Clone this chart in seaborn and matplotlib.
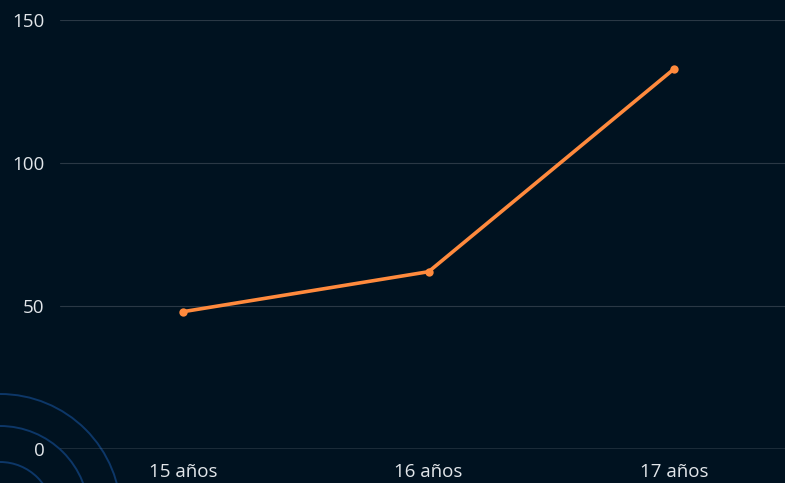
import numpy as np
import pandas as pd
import matplotlib
matplotlib.use("Agg")
import matplotlib.pyplot as plt
import seaborn as sns
from matplotlib.patches import Circle

# Data
ages = ["15 años", "16 años", "17 años"]
values = [48, 62, 133]
y_ticks = [0, 50, 100, 150]

bg_color = "#001220"
line_color = "#FF8A3D"
grid_color = "#2a3845"
text_color = "#e2e6ea"

sns.set_theme(style="dark")
plt.rcParams["font.family"] = ["Open Sans", "DejaVu Sans"]

df = pd.DataFrame({"age": ages, "value": values})

fig = plt.figure(figsize=(7.85, 4.83), dpi=100)
fig.patch.set_facecolor(bg_color)

# decorative rings in the lower left corner (pixel coordinates)
ax_bg = fig.add_axes([0, 0, 1, 1], zorder=0)
ax_bg.set_xlim(0, 785)
ax_bg.set_ylim(483, 0)
ax_bg.axis("off")
ax_bg.set_facecolor(bg_color)
for r in [53, 89, 121]:
    ax_bg.add_patch(Circle((0, 515), r, fill=False, edgecolor="#0d3768", lw=1.4))

ax = fig.add_axes([60 / 785, 34 / 483, 725 / 785, 429 / 483], zorder=1)
ax.set_facecolor("none")

sns.lineplot(data=df, x="age", y="value", ax=ax, color=line_color, lw=2.6,
             marker="o", markersize=6, markeredgewidth=0, sort=False)

ax.set_ylim(0, 150)
ax.set_xlim(-0.5, 2.45)
ax.set_yticks(y_ticks)
ax.set_yticklabels([str(t) for t in y_ticks])
ax.set_xlabel("")
ax.set_ylabel("")

ax.grid(False)
for t in y_ticks[1:]:
    ax.axhline(t, color=grid_color, lw=0.8, zorder=0)
ax.axhline(0, color="#8a949e", lw=1.0, zorder=0)

for s in ax.spines.values():
    s.set_visible(False)

ax.tick_params(axis="y", length=0, pad=11, labelsize=13.5, labelcolor=text_color)
ax.tick_params(axis="x", length=0, pad=10, labelsize=13.5, labelcolor=text_color)

fig.savefig("out.png", dpi=100, facecolor=bg_color)
